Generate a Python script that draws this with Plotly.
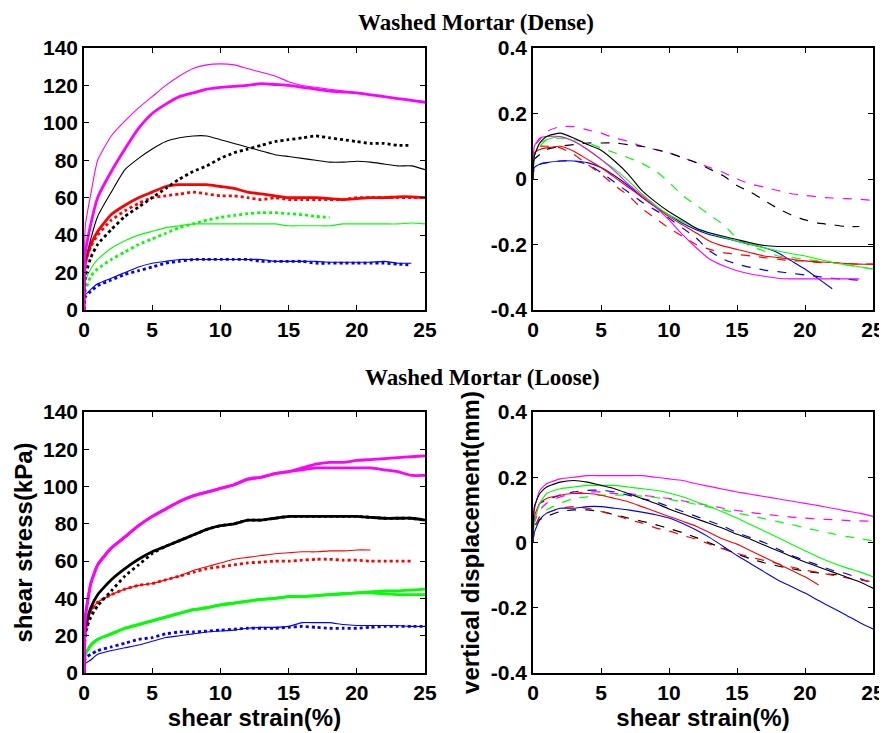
import plotly.graph_objects as go

# ---------------- data ----------------
# common strain grid (%)
strain = [0, 0.1, 0.5, 1, 2, 3, 4, 5, 6, 7, 8, 9, 10, 11, 12, 13, 14, 15,
          16, 17, 18, 19, 20, 21, 22, 23, 24, 25]

# Dense: shear stress (kPa)
ds_mag_solid = [0, 45, 62, 80, 93, 101, 108, 114, 120, 125, 129, 131, 131.5, 131, 129, 127, 125, 122,
                120, 119, 118, 117, 116, 115, 114, 113, 112, 111]
ds_mag_dot = [0, 30, 46, 60, 74, 86, 97, 105, 110, 114, 116, 118, 119, 119.5, 120, 121, 120.5, 120,
              119, 118, 117, 116.5, 116, 115, 114, 113, 112, 111]
ds_blk_solid = [0, 25, 38, 50, 63, 75, 81, 86, 90, 92, 93, 93, 91, 89, 87, 85, 83, 82,
                81, 80, 79, 79, 79.5, 79, 78, 77, 77, 75]
ds_blk_dot = [0, 18, 28, 35, 43, 50, 55, 60, 65, 70, 74, 77, 81, 84, 86, 88, 90, 91,
              92, 93, 92, 91, 90, 89, 89, 88, 88]
ds_red_solid = [0, 25, 35, 42, 51, 56, 60, 63, 66, 67, 67, 67, 66, 65, 63, 62, 61, 60,
                60, 60, 59.5, 59, 59.5, 60, 60, 60.5, 60.5, 60]
ds_red_dot = [0, 25, 34, 40, 48, 53, 57, 60, 61, 62, 63, 62, 61, 61, 60, 59, 60, 59,
              59, 59, 59, 59, 60, 60, 60, 60, 60, 60]
ds_grn_solid = [0, 15, 22, 27, 33, 37, 40, 42, 44, 45, 46, 46, 46, 46, 46, 46, 46, 45,
                45, 45, 45, 46, 46, 46, 46, 46, 46.5, 46]
ds_grn_dot = [0, 10, 18, 22, 27, 31, 35, 38, 41, 44, 46, 48, 49.5, 50.5, 51.5, 52, 52, 51.5,
              51, 50, 49.5]
ds_blu_solid = [0, 8, 11, 14, 17, 20, 23, 25, 26, 27, 27, 27, 27, 27, 27, 27, 26, 26,
                26, 26, 25.5, 25.5, 25.5, 25.5, 26, 25, 25]
ds_blu_dot = [0, 7, 10, 13, 16, 19, 21, 23, 25, 26, 27, 27, 27, 27, 27, 26, 26, 26,
              26, 25, 25, 25, 25, 25, 25, 24.5, 24]

# Dense: vertical displacement (mm)
dv_mag_solid = [0, 0.1, 0.125, 0.13, 0.13, 0.115, 0.09, 0.06, 0.025, -0.015, -0.05, -0.085, -0.125, -0.17,
                -0.21, -0.245, -0.265, -0.28, -0.29, -0.297, -0.303, -0.305, -0.305, -0.305, -0.305, -0.305, -0.305]
dv_mag_dash = [0, 0.1, 0.12, 0.145, 0.16, 0.16, 0.15, 0.14, 0.125, 0.115, 0.1, 0.09, 0.08, 0.065,
               0.05, 0.035, 0.02, 0.0, -0.015, -0.025, -0.035, -0.045, -0.05, -0.055, -0.058, -0.06, -0.062, -0.065]
dv_blk_solid = [0, 0.07, 0.11, 0.13, 0.14, 0.125, 0.105, 0.088, 0.055, 0.015, -0.035, -0.07, -0.1, -0.125,
                -0.15, -0.165, -0.175, -0.185, -0.195, -0.203, -0.206, -0.206, -0.206, -0.206, -0.206, -0.206, -0.206, -0.206]
dv_blk_dash = [0, 0.06, 0.075, 0.09, 0.1, 0.105, 0.11, 0.11, 0.11, 0.105, 0.1, 0.09, 0.08, 0.065,
               0.05, 0.03, 0.01, -0.02, -0.04, -0.065, -0.09, -0.11, -0.125, -0.135, -0.14, -0.145, -0.145]
dv_grn_solid = [0, 0.07, 0.11, 0.12, 0.13, 0.115, 0.09, 0.06, 0.03, -0.005, -0.045, -0.08, -0.11, -0.13,
                -0.15, -0.165, -0.178, -0.19, -0.2, -0.21, -0.22, -0.228, -0.235, -0.245, -0.255, -0.262, -0.268, -0.275]
dv_grn_dash = [0, 0.08, 0.1, 0.12, 0.125, 0.12, 0.11, 0.095, 0.08, 0.065, 0.048, 0.025, -0.01, -0.05,
               -0.08, -0.11, -0.14, -0.18, -0.205, -0.22, -0.235, -0.24, -0.245, -0.25, -0.255, -0.262, -0.268, -0.275]
dv_blu_solid = [0, 0.035, 0.045, 0.05, 0.055, 0.055, 0.05, 0.035, 0.01, -0.02, -0.055, -0.085, -0.11, -0.135,
                -0.155, -0.17, -0.18, -0.19, -0.2, -0.21, -0.225, -0.25, -0.275, -0.305, -0.335]
dv_blu_dash = [0, 0.035, 0.045, 0.05, 0.055, 0.055, 0.045, 0.02, -0.01, -0.04, -0.07, -0.095, -0.12, -0.15,
               -0.18, -0.22, -0.245, -0.26, -0.27, -0.278, -0.283, -0.288, -0.293, -0.298, -0.303, -0.306, -0.309]
dv_red_solid = [0, 0.08, 0.09, 0.095, 0.1, 0.085, 0.06, 0.035, 0.005, -0.025, -0.055, -0.085, -0.115, -0.14,
                -0.165, -0.19, -0.205, -0.215, -0.225, -0.235, -0.24, -0.245, -0.25, -0.253, -0.255, -0.258, -0.26, -0.26]
dv_red_dash = [0, 0.09, 0.1, 0.1, 0.095, 0.075, 0.045, 0.015, -0.02, -0.05, -0.09, -0.12, -0.15, -0.175,
               -0.2, -0.215, -0.225, -0.23, -0.235, -0.24, -0.245, -0.25, -0.25, -0.255, -0.255, -0.258, -0.26, -0.26]

# Loose: shear stress (kPa)
ls_mag_a = [0, 30, 48, 58, 67, 73, 79, 84, 88, 92, 95, 97, 99, 101, 104, 105, 107, 108,
            110, 112, 113, 113, 114, 114.5, 115, 115.5, 116, 116.5]
ls_mag_b = [0, 30, 48, 58, 67, 73, 79, 84, 88, 92, 95, 97, 99, 101, 104, 105, 107, 108,
            109, 110, 110, 110, 110, 110, 109, 108, 106, 106]
ls_blk_a = [0, 25, 35, 42, 50, 56, 61, 65, 68, 71, 74, 77, 79, 80, 82, 82, 83, 84,
            84, 84, 84, 84, 84, 83.5, 83, 83, 83, 82]
ls_blk_b = [0, 22, 30, 36, 44, 52, 58, 64, 68, 71, 74, 77, 79, 80, 82, 82, 83, 84,
            84, 84, 84, 84, 84, 83.5, 83, 83, 83, 82]
ls_red_solid = [0, 20, 33, 38, 42, 45, 47, 48, 50, 52, 55, 57, 59, 61, 62, 63, 64, 64.5,
                65, 65, 65.5, 65.5, 66, 66]
ls_red_dot = [0, 20, 33, 38, 42, 45, 47, 48, 50, 52, 54, 56, 57, 58, 59, 59.5, 60, 60,
              60.5, 61, 61, 60.5, 60.5, 60, 60, 60, 60]
ls_grn_a = [0, 10, 15, 18, 21, 24, 26, 28, 30, 32, 34, 35, 36.5, 37.5, 38.5, 39.5, 40, 41,
            41, 41.5, 42, 42.5, 43, 43.5, 44, 44, 44.5, 45]
ls_grn_b = [0, 10, 15, 18, 21, 24, 26, 28, 30, 32, 34, 35, 36.5, 37.5, 38.5, 39.5, 40, 41,
            41, 41.5, 42, 42.5, 43, 43, 42.5, 42, 42, 42]
ls_blu_solid = [0, 5, 7, 10, 12, 13.5, 15, 17, 19, 20, 21, 22, 22.5, 23, 24, 24.5, 24.5, 25,
                27, 27, 27, 26, 25.5, 25.5, 25.5, 25.5, 25, 25]
ls_blu_dot = [0, 8, 10, 12, 14, 16, 18, 19, 21, 22, 22, 22.5, 23, 23.5, 24, 24, 24, 24.5,
              25, 24.5, 24, 24, 24, 24.5, 25, 25, 25, 25]

# Loose: vertical displacement (mm)
lv_mag_solid = [0, 0.1, 0.16, 0.18, 0.195, 0.2, 0.205, 0.205, 0.205, 0.205, 0.205, 0.2, 0.195, 0.19,
                0.18, 0.172, 0.163, 0.155, 0.148, 0.141, 0.134, 0.127, 0.12, 0.113, 0.105, 0.097, 0.09, 0.08]
lv_mag_dash = [0, 0.06, 0.1, 0.12, 0.14, 0.15, 0.155, 0.155, 0.15, 0.15, 0.145, 0.14, 0.135, 0.128,
               0.12, 0.113, 0.105, 0.098, 0.092, 0.087, 0.082, 0.078, 0.075, 0.072, 0.07, 0.068, 0.066, 0.065]
lv_blk_solid = [0, 0.11, 0.15, 0.17, 0.185, 0.19, 0.185, 0.175, 0.165, 0.15, 0.135, 0.12, 0.103, 0.088,
                0.073, 0.058, 0.043, 0.025, 0.01, -0.008, -0.025, -0.043, -0.06, -0.075, -0.09, -0.105, -0.12, -0.14]
lv_blk_dash = [0, 0.05, 0.07, 0.08, 0.095, 0.1, 0.1, 0.095, 0.085, 0.075, 0.065, 0.055, 0.043, 0.03,
               0.015, -0.002, -0.018, -0.035, -0.05, -0.062, -0.072, -0.08, -0.088, -0.093, -0.098, -0.1]
lv_grn_solid = [0, 0.06, 0.12, 0.15, 0.165, 0.17, 0.175, 0.175, 0.175, 0.17, 0.165, 0.16, 0.152, 0.14,
                0.125, 0.11, 0.093, 0.075, 0.055, 0.035, 0.015, -0.005, -0.025, -0.045, -0.062, -0.077, -0.09, -0.105]
lv_grn_dash = [0, 0.04, 0.08, 0.1, 0.12, 0.135, 0.14, 0.145, 0.145, 0.145, 0.142, 0.138, 0.132, 0.125,
               0.117, 0.108, 0.1, 0.09, 0.082, 0.073, 0.064, 0.055, 0.045, 0.036, 0.027, 0.019, 0.012, 0.005]
lv_blu_solid = [0, 0.03, 0.07, 0.09, 0.105, 0.105, 0.11, 0.11, 0.105, 0.1, 0.093, 0.085, 0.075, 0.058,
                0.038, 0.015, -0.012, -0.04, -0.065, -0.09, -0.115, -0.135, -0.155, -0.178, -0.2, -0.222, -0.245, -0.265]
lv_blu_dash = [0, 0.07, 0.12, 0.13, 0.145, 0.155, 0.16, 0.16, 0.155, 0.145, 0.135, 0.125, 0.11, 0.095,
               0.08, 0.065, 0.05, 0.03, 0.015, 0.0, -0.02, -0.04, -0.055, -0.07, -0.085, -0.095, -0.11, -0.125]
lv_red_solid = [0, 0.08, 0.12, 0.135, 0.145, 0.15, 0.15, 0.145, 0.135, 0.125, 0.11, 0.095, 0.08, 0.065,
                0.05, 0.03, 0.01, -0.005, -0.025, -0.045, -0.065, -0.085, -0.105, -0.13]
lv_red_dash = [0, 0.04, 0.08, 0.09, 0.105, 0.11, 0.105, 0.095, 0.085, 0.07, 0.06, 0.045, 0.035, 0.022,
               0.01, -0.005, -0.02, -0.033, -0.045, -0.055, -0.065, -0.075, -0.085, -0.092, -0.1, -0.108, -0.115, -0.12]

x_ticks = [0, 5, 10, 15, 20, 25]
stress_ticks = [0, 20, 40, 60, 80, 100, 120, 140]
disp_ticks = [-0.4, -0.2, 0, 0.2, 0.4]
disp_tick_text = ["-0.4", "-0.2", "0", "0.2", "0.4"]

MAG, BLK, RED, GRN, BLU = "#FF00FF", "#000000", "#FF0000", "#00FF00", "#0000FF"

# ---------------- figure ----------------
fig = go.Figure()

STYLES = {
    "thin": dict(width=1.1, dash="solid"),
    "thick": dict(width=2.8, dash="solid"),
    "dot": dict(width=2.8, dash="dot"),
    "dash": dict(width=1.2, dash="dash"),
}

def add(ax, y, color, style):
    fig.add_trace(go.Scatter(
        x=strain[:len(y)], y=y, mode="lines", xaxis="x" + ax, yaxis="y" + ax,
        line=dict(color=color, shape="spline", smoothing=0.5, **STYLES[style]),
        showlegend=False, hoverinfo="skip"))

for y, c, s in [(ds_blu_dot, BLU, "dot"), (ds_blu_solid, BLU, "thin"),
                (ds_grn_dot, GRN, "dot"), (ds_grn_solid, GRN, "thin"),
                (ds_red_dot, RED, "dot"), (ds_red_solid, RED, "thick"),
                (ds_blk_dot, BLK, "dot"), (ds_blk_solid, BLK, "thin"),
                (ds_mag_dot, MAG, "thick"), (ds_mag_solid, MAG, "thin")]:
    add("", y, c, s)

for y, c, s in [(dv_mag_dash, MAG, "dash"), (dv_blk_dash, BLK, "dash"),
                (dv_grn_dash, GRN, "dash"), (dv_blu_dash, BLU, "dash"),
                (dv_red_dash, RED, "dash"), (dv_blu_solid, BLU, "thin"),
                (dv_red_solid, RED, "thin"), (dv_grn_solid, GRN, "thin"),
                (dv_mag_solid, MAG, "thin"), (dv_blk_solid, BLK, "thin")]:
    add("2", y, c, s)

for y, c, s in [(ls_blu_dot, BLU, "dot"), (ls_blu_solid, BLU, "thin"),
                (ls_grn_b, GRN, "thick"), (ls_grn_a, GRN, "thick"),
                (ls_red_dot, RED, "dot"), (ls_red_solid, RED, "thin"),
                (ls_blk_b, BLK, "dot"), (ls_blk_a, BLK, "thick"),
                (ls_mag_b, MAG, "thick"), (ls_mag_a, MAG, "thick")]:
    add("3", y, c, s)

for y, c, s in [(lv_mag_dash, MAG, "dash"), (lv_blk_dash, BLK, "dash"),
                (lv_grn_dash, GRN, "dash"), (lv_blu_dash, BLU, "dash"),
                (lv_red_dash, RED, "dash"), (lv_blu_solid, BLU, "thin"),
                (lv_red_solid, RED, "thin"), (lv_grn_solid, GRN, "thin"),
                (lv_mag_solid, MAG, "thin"), (lv_blk_solid, BLK, "thin")]:
    add("4", y, c, s)

# page has an 8px body margin: lay out in screen pixels, shifted by it
OFF = 8
W, H = 887 - OFF, 733 - OFF
def px_x(a, b):
    return [(a - OFF) / W, (b - OFF) / W]
def px_y(top, bot):
    return [1 - (bot - OFF) / H, 1 - (top - OFF) / H]

tickfont = dict(family="Liberation Sans, Arial, sans-serif", size=21, color="black", weight="bold")
titlefont = dict(family="Liberation Sans, Arial, sans-serif", size=24, color="black", weight="bold")
supfont = dict(family="Liberation Serif, Times New Roman, serif", size=23, color="black", weight="bold")

def xaxis(dom, anchor, title=None):
    d = dict(domain=dom, anchor=anchor, range=[0, 25], tickvals=x_ticks,
             ticks="inside", ticklen=5, tickwidth=1, tickcolor="black",
             showline=True, linecolor="black", linewidth=1.5, mirror="ticks",
             showgrid=False, zeroline=False, tickfont=tickfont, automargin=False)
    if title:
        d["title"] = dict(text=title, font=titlefont, standoff=2)
    return d

def yaxis(dom, anchor, rng, tv, tt=None, title=None):
    d = dict(domain=dom, anchor=anchor, range=rng, tickvals=tv,
             ticks="inside", ticklen=5, tickwidth=1, tickcolor="black",
             showline=True, linecolor="black", linewidth=1.5, mirror="ticks",
             showgrid=False, zeroline=False, tickfont=tickfont, automargin=False)
    if tt:
        d["ticktext"] = tt
    if title:
        d["title"] = dict(text=title, font=titlefont, standoff=4)
    return d

XL, XR = px_x(84, 425), px_x(533, 873)
YT, YB = px_y(48, 310), px_y(412, 673)

fig.update_layout(
    width=W, height=H, margin=dict(l=0, r=0, t=0, b=0, autoexpand=False),
    paper_bgcolor="white", plot_bgcolor="white", showlegend=False,
    xaxis=xaxis(XL, "y"), yaxis=yaxis(YT, "x", [0, 140], stress_ticks),
    xaxis2=xaxis(XR, "y2"), yaxis2=yaxis(YT, "x2", [-0.4, 0.4], disp_ticks, disp_tick_text),
    xaxis3=xaxis(XL, "y3", "shear strain(%)"),
    yaxis3=yaxis(YB, "x3", [0, 140], stress_ticks, title="shear stress(kPa)"),
    xaxis4=xaxis(XR, "y4", "shear strain(%)"),
    yaxis4=yaxis(YB, "x4", [-0.4, 0.4], disp_ticks, disp_tick_text, title="vertical displacement(mm)"),
    annotations=[
        dict(text="Washed Mortar (Dense)", x=(476 - OFF) / W, y=1.0,
             xanchor="center", yanchor="top",
             xref="paper", yref="paper", showarrow=False, font=supfont),
        dict(text="Washed Mortar (Loose)", x=(482 - OFF) / W, y=1 - (377 - OFF) / H,
             xanchor="center", yanchor="middle",
             xref="paper", yref="paper", showarrow=False, font=supfont),
    ],
)

fig.write_html("out.html")
